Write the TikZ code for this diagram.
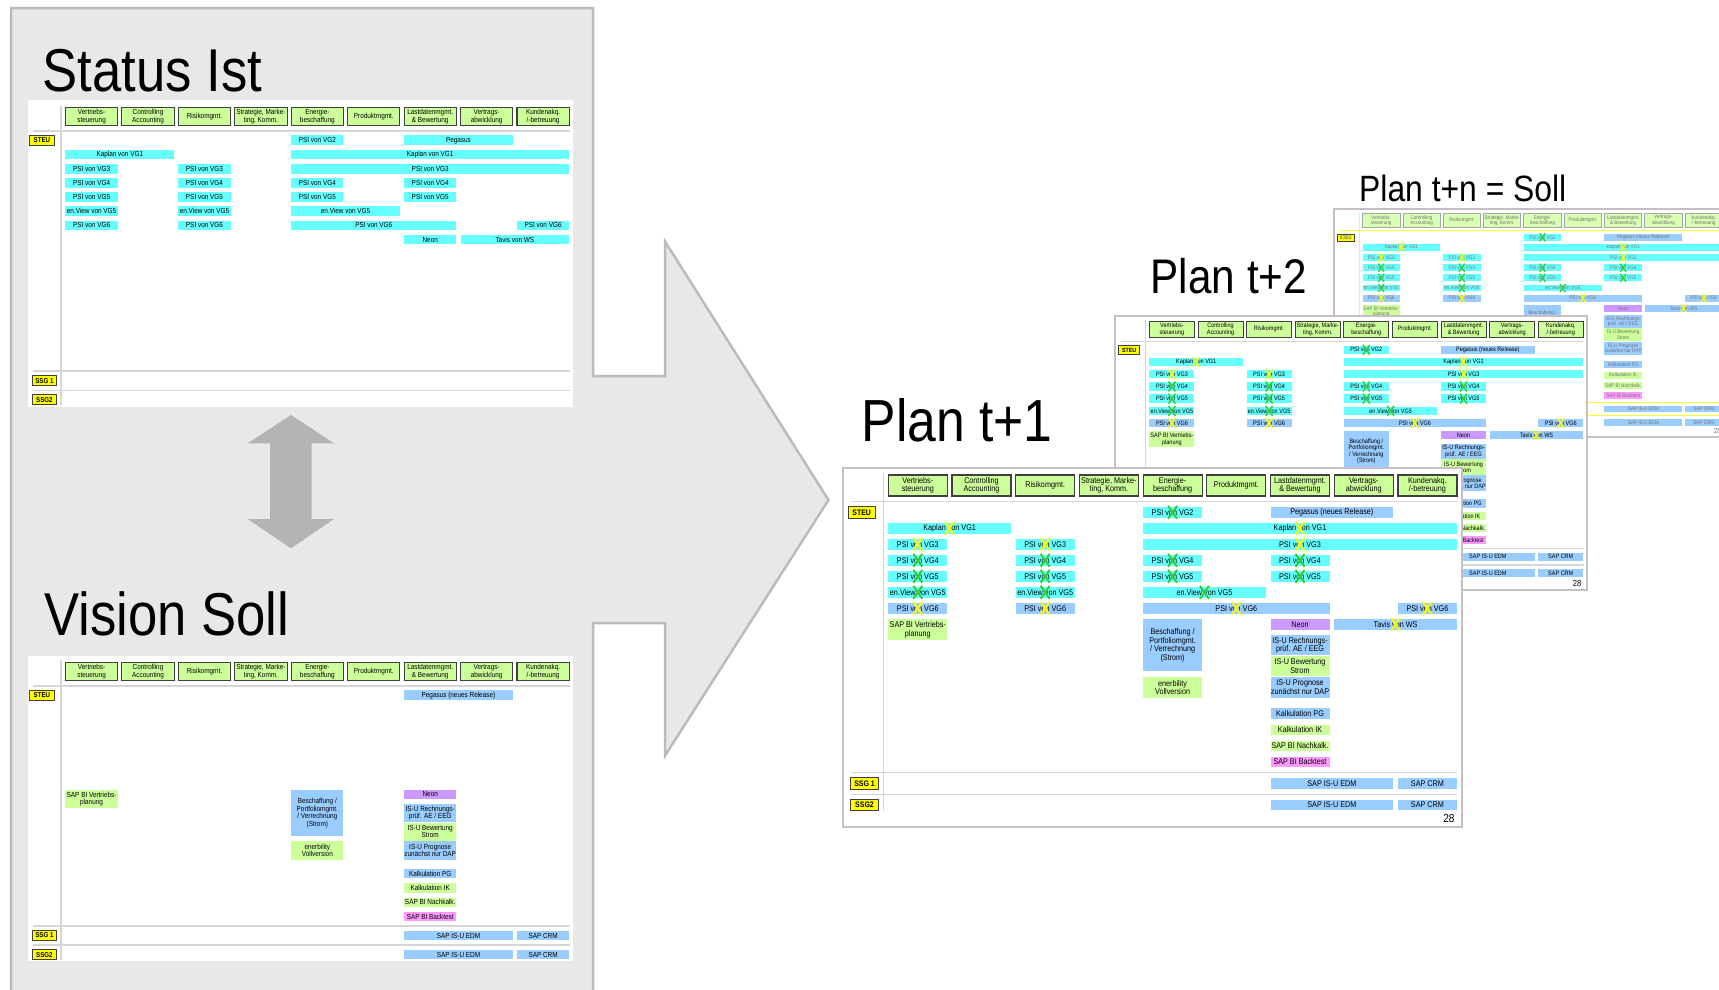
\documentclass[tikz,border=0pt]{standalone}
\usepackage{fontspec}
\setmainfont{Liberation Sans}[FakeStretch=0.87]
\usetikzlibrary{positioning}

\definecolor{panelgray}{HTML}{E8E8E8}
\definecolor{panelline}{HTML}{BBBBBB}
\definecolor{arrowgray}{HTML}{B4B4B4}
\definecolor{slideline}{HTML}{C8BEC8}
\definecolor{ruleg}{HTML}{D6D6D6}
\definecolor{appgreen}{HTML}{CCFF99}
\definecolor{psicyan}{HTML}{66FFFF}
\definecolor{sapblue}{HTML}{99CCFF}
\definecolor{neonlila}{HTML}{CC99FF}
\definecolor{testpink}{HTML}{FF99FF}
\definecolor{xgreen}{HTML}{33CC33}
\definecolor{xyellow}{HTML}{FFFF00}

\newcounter{cellno}
\def\sls{1}

% one application box: fill, first column, last column, top, bottom, text
\newcommand\tcell[6]{%
  \pgfmathsetmacro\cL{45.1+63.7*#2}%
  \pgfmathsetmacro\cR{45.1+63.7*#3+59}%
  \pgfmathsetmacro\cW{\cR-\cL}%
  \pgfmathsetmacro\cH{#5-#4}%
  \pgfmathsetmacro\cX{(\cL+\cR)/2}%
  \pgfmathsetmacro\cY{(#4+#5)/2}%
  \stepcounter{cellno}%
  \node[cellbox, fill=#1, minimum width=\cW pt, minimum height=\cH pt] (cell\thecellno) at (\cX,\cY) {#6};}
% box in one of the STEU rows
\newcommand\rcell[5]{%
  \pgfmathsetmacro\rT{38.8+16*#4}%
  \pgfmathsetmacro\rB{\rT+11}%
  \tcell{#1}{#2}{#3}{\rT}{\rB}{#5}}
% same, crossed out
\newcommand\xcell[6]{%
  \rcell{#1}{#2}{#3}{#4}{#5}%
  \draw[xline, draw=#6] (cell\thecellno.center) ++(-4.5,-6.5) -- ++(9,13)
                        (cell\thecellno.center) ++(4.5,-6.5) -- ++(-9,13);}

% grid, column heads and row labels of a slide
\newcommand\slideframe[1]{%
  \draw[rulel] (8,33.7) -- (614,33.7);
  \draw[rulel] (40.2,5) -- (40.2,343);
  \draw[rulel] (8,304.7) -- (614,304.7);
  \draw[rulel] (8,326.3) -- (614,326.3);
  \foreach \t [count=\i from 0] in {{Vertriebs-\\steuerung},{Controlling\\Accounting},{Risikomgmt.},
      {Strategie, Marke-\\ting, Komm.},{Energie-\\beschaffung},{Produktmgmt.},
      {Lastdatenmgmt.\\\& Bewertung},{Vertrags-\\abwicklung},{Kundenakq.\\/-betreuung}}
    \node[hdrbox] (#1-h\i) at ({74.6+63.7*\i},17.5) {\t};
  \node[rowlbl] (#1-steu) at (18.5,44.5) {STEU};
  \node[rowlbl] (#1-ssg1) at (21.3,315.5) {SSG 1};
  \node[rowlbl] (#1-ssg2) at (21.3,337) {SSG2};}

\newcommand\statuscells{%
  \rcell{psicyan}{4}{4}{0}{PSI von VG2}
  \rcell{psicyan}{6}{7}{0}{Pegasus}
  \rcell{psicyan}{0}{1}{1}{Kaplan von VG1}
  \rcell{psicyan}{4}{8}{1}{Kaplan von VG1}
  \rcell{psicyan}{0}{0}{2}{PSI von VG3}
  \rcell{psicyan}{2}{2}{2}{PSI von VG3}
  \rcell{psicyan}{4}{8}{2}{PSI von VG3}
  \foreach \c in {0,2,4,6} {\rcell{psicyan}{\c}{\c}{3}{PSI von VG4}}
  \foreach \c in {0,2,4,6} {\rcell{psicyan}{\c}{\c}{4}{PSI von VG5}}
  \rcell{psicyan}{0}{0}{5}{en.View von VG5}
  \rcell{psicyan}{2}{2}{5}{en.View von VG5}
  \rcell{psicyan}{4}{5}{5}{en.View von VG5}
  \rcell{psicyan}{0}{0}{6}{PSI von VG6}
  \rcell{psicyan}{2}{2}{6}{PSI von VG6}
  \rcell{psicyan}{4}{6}{6}{PSI von VG6}
  \rcell{psicyan}{8}{8}{6}{PSI von VG6}
  \rcell{psicyan}{6}{6}{7}{Neon}
  \rcell{psicyan}{7}{8}{7}{Tavis von WS}}

\newcommand\newcells{%
  \tcell{appgreen}{0}{0}{151.3}{172}{SAP BI Vertriebs-\\planung}
  \tcell{sapblue}{4}{4}{151.3}{203}{Beschaffung /\\Portfoliomgmt.\\/ Verrechnung\\(Strom)}
  \tcell{appgreen}{4}{4}{209}{229.7}{enerbility\\Vollversion}
  \tcell{sapblue}{6}{6}{167.3}{187.3}{IS-U Rechnungs-\\prüf. AE / EEG}
  \tcell{appgreen}{6}{6}{188}{208.3}{IS-U Bewertung\\Strom}
  \tcell{sapblue}{6}{6}{209}{229.7}{IS-U Prognose\\zunächst nur DAP}
  \tcell{sapblue}{6}{6}{240.3}{251}{Kalkulation PG}
  \tcell{appgreen}{6}{6}{256.5}{267.3}{Kalkulation IK}
  \tcell{appgreen}{6}{6}{272.7}{283.3}{SAP BI Nachkalk.}
  \tcell{testpink}{6}{6}{288.7}{299.3}{SAP BI Backtest}
  \tcell{sapblue}{6}{7}{310.3}{320.7}{SAP IS-U EDM}
  \tcell{sapblue}{8}{8}{310.3}{320.7}{SAP CRM}
  \tcell{sapblue}{6}{7}{332}{342}{SAP IS-U EDM}
  \tcell{sapblue}{8}{8}{332}{342}{SAP CRM}}

\newcommand\plancells{%
  \xcell{psicyan}{4}{4}{0}{PSI von VG2}{xgreen}
  \rcell{sapblue}{6}{7}{0}{Pegasus (neues Release)}
  \xcell{psicyan}{0}{1}{1}{Kaplan von VG1}{xyellow}
  \xcell{psicyan}{4}{8}{1}{Kaplan von VG1}{xyellow}
  \xcell{psicyan}{0}{0}{2}{PSI von VG3}{xyellow}
  \xcell{psicyan}{2}{2}{2}{PSI von VG3}{xyellow}
  \xcell{psicyan}{4}{8}{2}{PSI von VG3}{xyellow}
  \foreach \c in {0,2,4,6} {\xcell{psicyan}{\c}{\c}{3}{PSI von VG4}{xgreen}}
  \foreach \c in {0,2,4,6} {\xcell{psicyan}{\c}{\c}{4}{PSI von VG5}{xgreen}}
  \xcell{psicyan}{0}{0}{5}{en.View von VG5}{xgreen}
  \xcell{psicyan}{2}{2}{5}{en.View von VG5}{xgreen}
  \xcell{psicyan}{4}{5}{5}{en.View von VG5}{xgreen}
  \xcell{sapblue}{0}{0}{6}{PSI von VG6}{xyellow}
  \xcell{sapblue}{2}{2}{6}{PSI von VG6}{xyellow}
  \xcell{sapblue}{4}{6}{6}{PSI von VG6}{xyellow}
  \xcell{sapblue}{8}{8}{6}{PSI von VG6}{xyellow}
  \rcell{neonlila}{6}{6}{7}{Neon}
  \xcell{sapblue}{7}{8}{7}{Tavis von WS}{xyellow}
  \newcells}

% framed plan slide: name, x, y, scale, extra options
\newcommand\planslide[5]{%
  \begin{scope}[shift={(#2,#3)}, scale=#4, transform shape, #5]
    \def\sls{#4}
    \filldraw[slidebox] (0,0) rectangle (619,359);
    \slideframe{#1}
    \plancells
    \node[pgno] (#1-pg) at (611.5,354.7) {28};
  \end{scope}}

\begin{document}
\begin{tikzpicture}[x=1pt, y=-1pt,
    panel/.style={fill=panelgray, draw=panelline, line width=2.5pt, line join=miter},
    title/.style={anchor=base west, inner sep=0pt},
    slidebox/.style={fill=white, draw=slideline, line width=2pt},
    rulel/.style={draw=ruleg, line width=1.5pt*\sls},
    hdrbox/.style={draw=black!75, fill=appgreen, line width=1.2pt*\sls, minimum width=59pt,
      minimum height=21pt, inner sep=0pt, align=center, font=\fontsize{8.3}{8.6}\selectfont},
    cellbox/.style={inner sep=0pt, align=center, font=\fontsize{8.3}{8.5}\selectfont},
    rowlbl/.style={draw=black!75, fill=xyellow, line width=1pt*\sls, minimum width=27.4pt,
      minimum height=11.4pt, inner sep=0pt, font=\bfseries\fontsize{8}{8}\selectfont},
    xline/.style={line width=1.9pt*\sls},
    pgno/.style={anchor=base east, inner sep=0pt, font=\fontsize{11.6}{12}\selectfont},
    ghost/.style={rulel/.style={draw=xyellow!85!white, line width=1.5pt*\sls},
      hdrbox/.append style={draw=black!35, fill=appgreen!75!white},
      every node/.append style={text=black!55}}
]
    \useasboundingbox (0,0) rectangle (1719,989);
    \clip (0,0) rectangle (1719,989);

    % grey panel with the big arrow
    \draw[panel] (11,1000) -- (11,8) -- (593,8) -- (593,376) -- (665,376) -- (665,241.4)
      -- (828.5,500) -- (665,755.7) -- (665,623) -- (593,623) -- (593,1000);

    % double arrow between Ist and Soll
    \fill[arrowgray] (291,415) -- (334,443.3) -- (311.7,443.3) -- (311.7,519) -- (334,519)
      -- (291,548.3) -- (247.7,519) -- (270,519) -- (270,443.3) -- (247.7,443.3) -- cycle;

    % titles
    \node[title, font=\fontsize{60.5}{60}\selectfont] (ist) at (42.5,91) {Status Ist};
    \node[title, font=\fontsize{60.5}{60}\selectfont] (soll) at (44,635.5) {Vision Soll};
    \node[title, font=\fontsize{36.6}{37}\selectfont] (plann) at (1359,201) {Plan t+n = Soll};
    \node[title, font=\fontsize{48.6}{49}\selectfont] (plan2) at (1150.5,293) {Plan t+2};
    \node[title, font=\fontsize{59.4}{59}\selectfont] (plan1) at (861.5,441) {Plan t+1};

    % Status Ist slide
    \fill[white] (27.7,100) rectangle (572.7,406.7);
    \begin{scope}[shift={(25.5,101.1)}, scale=0.886, transform shape]
      \def\sls{0.886}
      \slideframe{ist}
      \statuscells
    \end{scope}

    % Vision Soll slide
    \fill[white] (27.7,656) rectangle (572.7,960.7);
    \begin{scope}[shift={(25.5,656)}, scale=0.886, transform shape]
      \def\sls{0.886}
      \slideframe{soll}
      \rcell{sapblue}{6}{7}{0}{Pegasus (neues Release)}
      \rcell{neonlila}{6}{6}{7}{Neon}
      \newcells
    \end{scope}

    % Plan slides, back to front
    \planslide{tn}{1334}{209.3}{0.633}{ghost}
    \planslide{t2}{1115}{316}{0.763}{}
    \planslide{t1}{843.2}{468}{1}{}

\end{tikzpicture}
\end{document}
